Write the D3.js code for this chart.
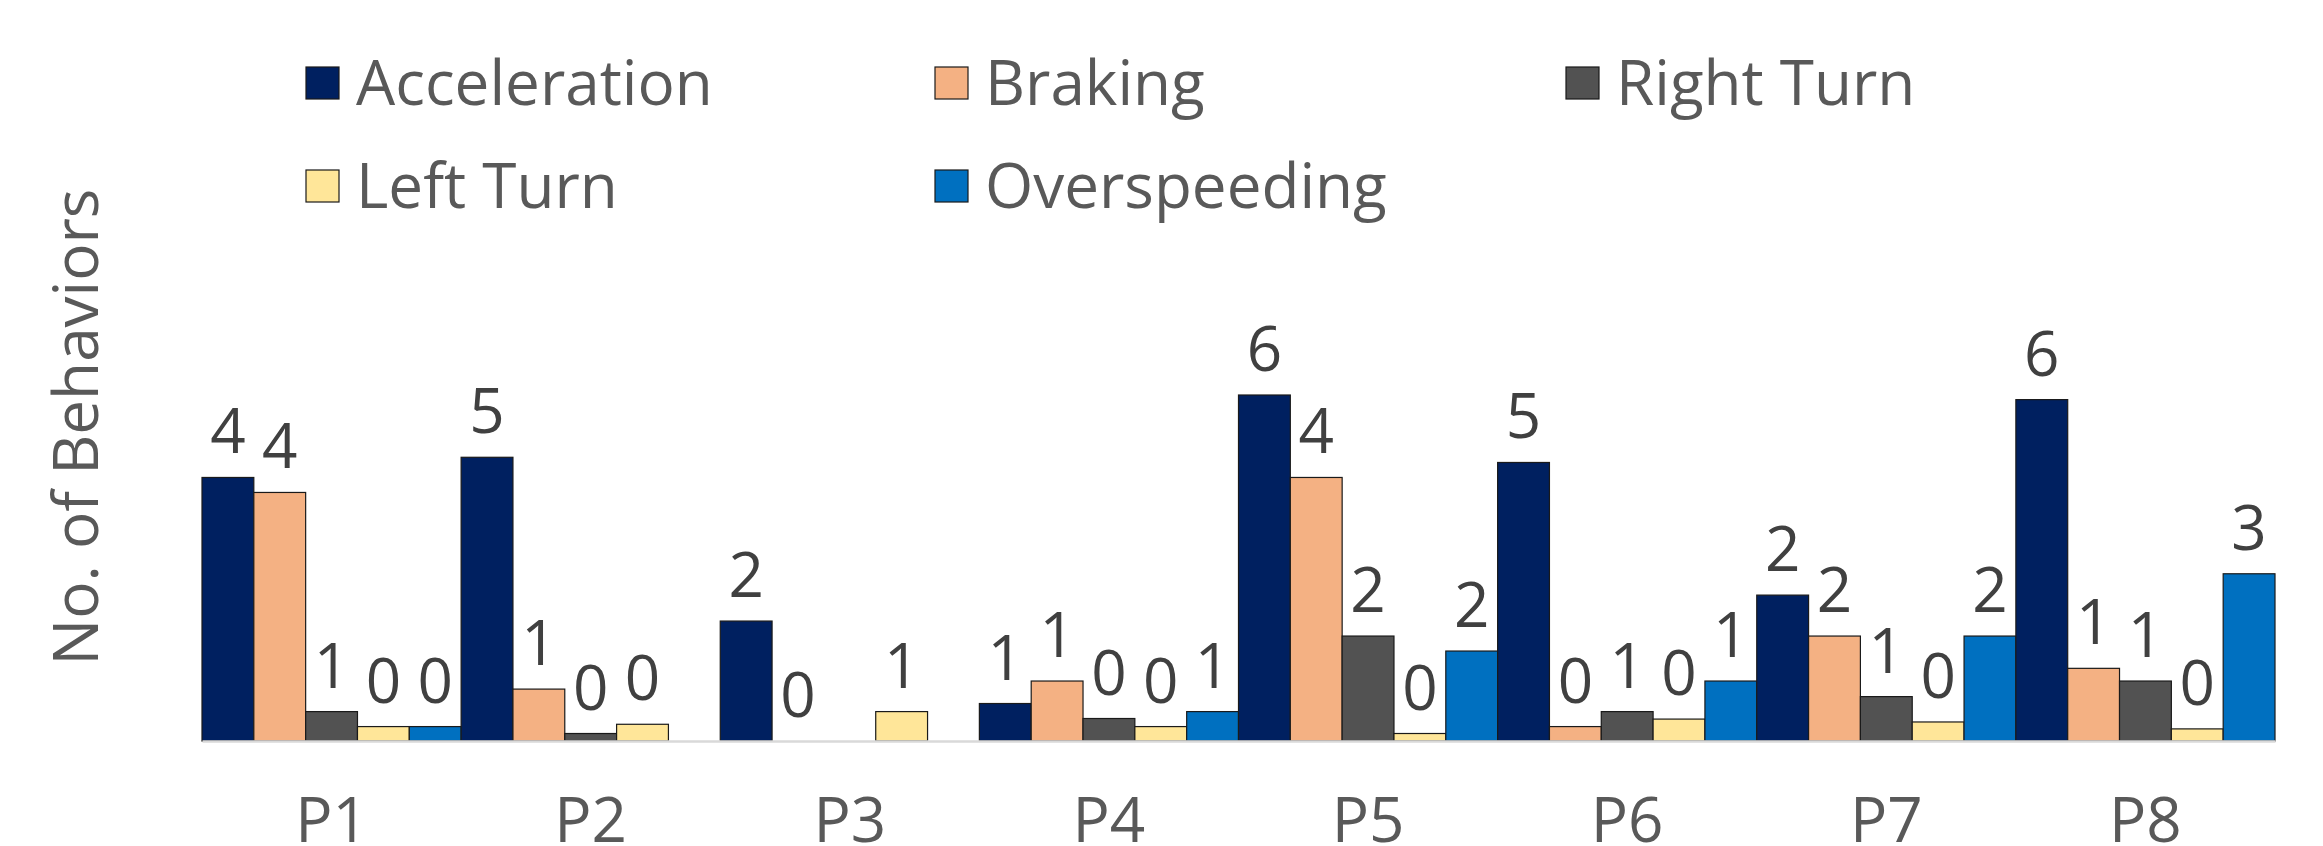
<!DOCTYPE html>
<html>
<head>
<meta charset="utf-8">
<script src="https://cdn.jsdelivr.net/npm/d3@7/dist/d3.min.js"></script>
<style>
  body { margin: 0; background: #fff; }
  svg { display: block; font-family: "Open Sans", sans-serif; }
  .domain { stroke: #d9d9d9; stroke-width: 2.5; }
  .tick text { fill: #595959; font-size: 62px; }
  .legend text { fill: #595959; font-size: 62px; }
  .value { fill: #404040; font-size: 62px; }
</style>
</head>
<body>
<svg width="2323" height="846"></svg>
<script>
// participants
const participants = ["P1", "P2", "P3", "P4", "P5", "P6", "P7", "P8"];
const behaviors = ["Acceleration", "Braking", "Right Turn", "Left Turn", "Overspeeding"];
const colors = ["#002060", "#F4B183", "#525252", "#FFE699", "#0070C0"];

// bar heights (null = no bar)
const acceleration = [4.57, 4.92, 2.08, 0.65, 6.00, 4.83, 2.53, 5.92];
const braking      = [4.31, 0.90, 0,    1.04, 4.57, 0.25, 1.82, 1.26];
const rightTurn    = [0.51, 0.13, null, 0.39, 1.82, 0.51, 0.77, 1.04];
const leftTurn     = [0.25, 0.29, 0.51, 0.25, 0.13, 0.38, 0.33, 0.21];
const overspeeding = [0.25, null, null, 0.51, 1.56, 1.04, 1.82, 2.90];

// numbers printed above the bars
const accLabels  = [4, 5, 2, 1, 6, 5, 2, 6];
const brkLabels  = [4, 1, 0, 1, 4, 0, 2, 1];
const rtLabels   = [1, 0, null, 0, 2, 1, 1, 1];
const ltLabels   = [0, 0, 1, 0, 0, 0, 0, 0];
const osLabels   = [0, null, null, 1, 2, 1, 2, 3];

const series = [acceleration, braking, rightTurn, leftTurn, overspeeding];
const labels = [accLabels, brkLabels, rtLabels, ltLabels, osLabels];

const rows = [];
participants.forEach((p, i) => {
  behaviors.forEach((b, j) => {
    rows.push({ p: p, b: b, value: series[j][i], label: labels[j][i], color: colors[j] });
  });
});

const svg = d3.select("svg");
const left = 202, right = 2275, base = 741;

const x0 = d3.scaleBand().domain(participants).range([left, right]).padding(0);
const x1 = d3.scaleBand().domain(behaviors).range([0, x0.bandwidth()]).padding(0);
const y = d3.scaleLinear().domain([0, 6]).range([base, 395]);

// bars
svg.append("g")
  .selectAll("rect")
  .data(rows.filter(d => d.value !== null && d.value > 0))
  .enter()
  .append("rect")
  .attr("x", d => x0(d.p) + x1(d.b))
  .attr("y", d => y(d.value))
  .attr("width", x1.bandwidth())
  .attr("height", d => base - y(d.value))
  .attr("fill", d => d.color)
  .attr("stroke", "#1a1a1a")
  .attr("stroke-width", 1.2);

// axis
svg.append("g")
  .attr("transform", `translate(0, ${base})`)
  .call(d3.axisBottom(x0).tickSize(0).tickPadding(57).tickSizeOuter(0))
  .call(g => g.selectAll(".tick text").attr("font-family", "Open Sans"));

// value labels
svg.append("g")
  .selectAll("text")
  .data(rows.filter(d => d.label !== null))
  .enter()
  .append("text")
  .attr("class", "value")
  .attr("x", d => x0(d.p) + x1(d.b) + x1.bandwidth() / 2)
  .attr("y", d => y(d.value || 0) - 24)
  .attr("text-anchor", "middle")
  .text(d => d.label);

// y title
svg.append("text")
  .attr("transform", "translate(98, 427) rotate(-90)")
  .attr("text-anchor", "middle")
  .attr("fill", "#595959")
  .attr("font-size", 62)
  .text("No. of Behaviors");

// legend
const legendPos = [[306, 83], [935, 83], [1566, 83], [306, 186], [935, 186]];
const legend = svg.append("g").attr("class", "legend")
  .selectAll("g")
  .data(behaviors)
  .enter()
  .append("g")
  .attr("transform", (d, i) => `translate(${legendPos[i][0]}, ${legendPos[i][1]})`);

legend.append("rect")
  .attr("x", 0)
  .attr("y", -16)
  .attr("width", 33)
  .attr("height", 32)
  .attr("fill", (d, i) => colors[i])
  .attr("stroke", "#1a1a1a")
  .attr("stroke-width", 1.2);

legend.append("text")
  .attr("x", 50)
  .attr("y", 22)
  .text(d => d);
</script>
</body>
</html>
